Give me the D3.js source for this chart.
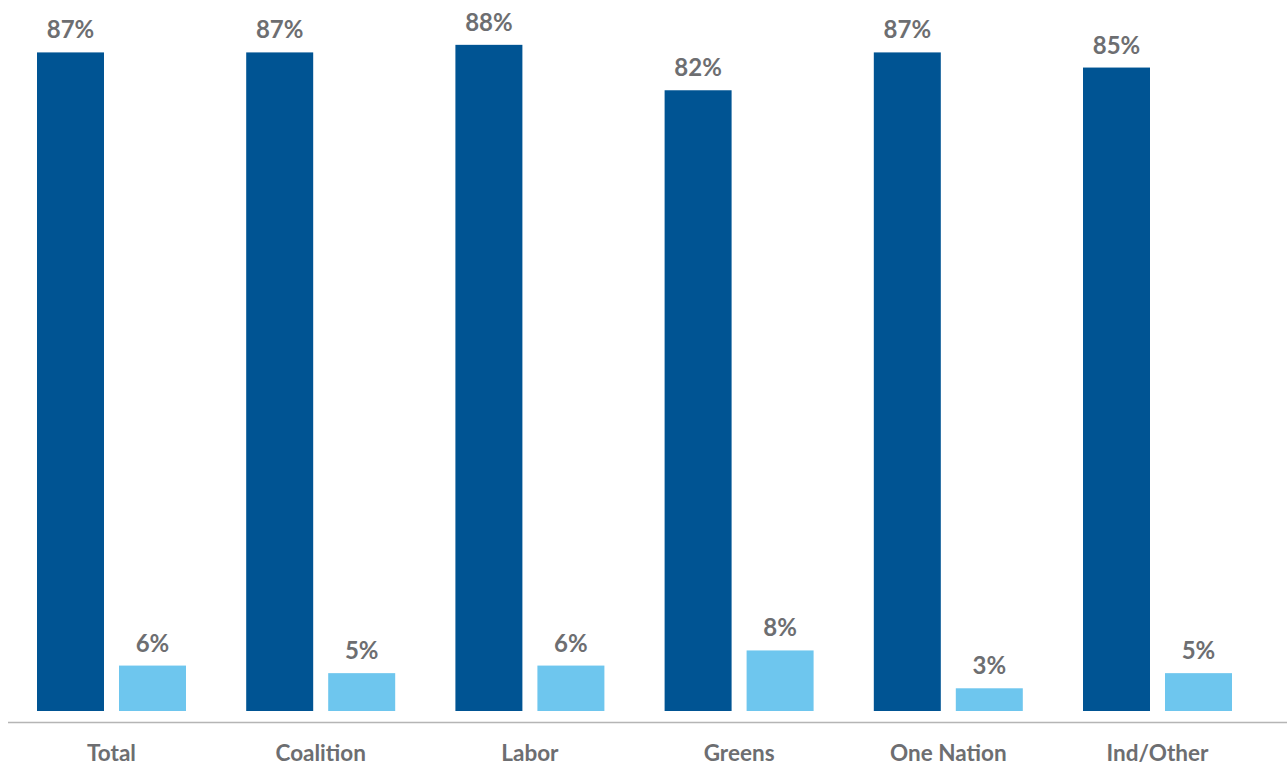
<!DOCTYPE html>
<html>
<head>
<meta charset="utf-8">
<script src="https://cdn.jsdelivr.net/npm/d3@7"></script>
<style>
  html, body { margin: 0; padding: 0; background: #fff; }
  svg { display: block; }
</style>
</head>
<body>
<svg id="chart" width="1287" height="765"></svg>
<script>
const categories = ["Total", "Coalition", "Labor", "Greens", "One Nation", "Ind/Other"];
const seriesNames = ["Series A", "Series B"];
const seriesA = [87, 87, 88, 82, 87, 85];
const seriesB = [6, 5, 6, 8, 3, 5];
const seriesColors = ["#005493", "#6ec6ee"];

const svg = d3.select("#chart");
const baseY = 711;
const x0 = d3.scaleBand().domain(categories).range([37, 1232]).paddingInner(0.2878).paddingOuter(0);
const x1 = d3.scaleBand().domain(seriesNames).range([0, x0.bandwidth()]).paddingInner(0.183).paddingOuter(0);
const y = d3.scaleLinear().domain([0, 100]).range([baseY, baseY - 757]);

const data = categories.map((c, i) => ({
  cat: c,
  vals: [
    { s: seriesNames[0], v: seriesA[i], color: seriesColors[0] },
    { s: seriesNames[1], v: seriesB[i], color: seriesColors[1] }
  ]
}));

const groups = svg.selectAll("g.grp").data(data).enter().append("g")
  .attr("class", "grp")
  .attr("transform", d => `translate(${x0(d.cat)},0)`);

groups.selectAll("rect").data(d => d.vals).enter().append("rect")
  .attr("x", d => x1(d.s))
  .attr("y", d => y(d.v))
  .attr("width", x1.bandwidth())
  .attr("height", d => baseY - y(d.v))
  .attr("fill", d => d.color);

groups.selectAll("text.val").data(d => d.vals).enter().append("text")
  .attr("class", "val")
  .attr("x", d => x1(d.s) + x1.bandwidth() / 2)
  .attr("y", d => y(d.v) - 14)
  .attr("text-anchor", "middle")
  .attr("font-family", "Lato, 'Open Sans', sans-serif")
  .attr("font-weight", "bold")
  .attr("font-size", 24)
  .attr("fill", "#6d6e71")
  .text(d => d.v + "%");

// axis
const xAxis = d3.axisBottom(x0).tickSize(0).tickPadding(0);
const ax = svg.append("g").attr("transform", `translate(0,722.5)`).call(xAxis);
ax.select(".domain").remove();
svg.append("line")
  .attr("x1", 8).attr("x2", 1287).attr("y1", 722.5).attr("y2", 722.5)
  .attr("stroke", "#b5b5b5").attr("stroke-width", 1.5);
ax.selectAll(".tick text")
  .attr("y", 38)
  .attr("dy", 0)
  .attr("font-family", "Lato, 'Open Sans', sans-serif")
  .attr("font-weight", "bold")
  .attr("font-size", 22.5)
  .attr("fill", "#6d6e71");
</script>
</body>
</html>
